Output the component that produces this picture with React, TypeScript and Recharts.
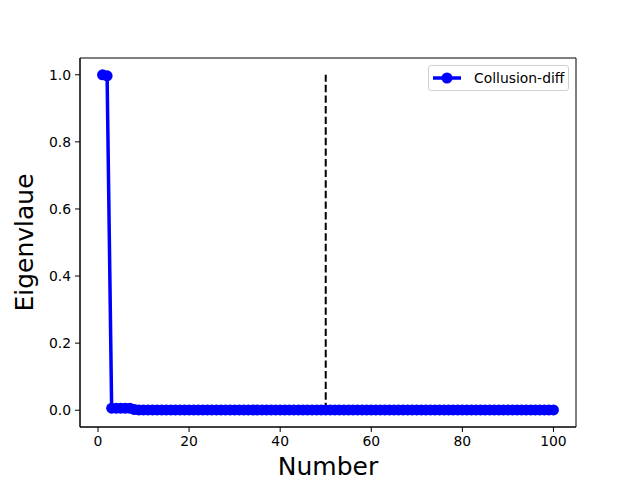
import { LineChart, Line, XAxis, YAxis, ReferenceLine, ReferenceArea, Label } from 'recharts';

// eigenvalue index 1..100
const numbers = [
  1, 2, 3, 4, 5, 6, 7, 8, 9, 10,
  11, 12, 13, 14, 15, 16, 17, 18, 19, 20,
  21, 22, 23, 24, 25, 26, 27, 28, 29, 30,
  31, 32, 33, 34, 35, 36, 37, 38, 39, 40,
  41, 42, 43, 44, 45, 46, 47, 48, 49, 50,
  51, 52, 53, 54, 55, 56, 57, 58, 59, 60,
  61, 62, 63, 64, 65, 66, 67, 68, 69, 70,
  71, 72, 73, 74, 75, 76, 77, 78, 79, 80,
  81, 82, 83, 84, 85, 86, 87, 88, 89, 90,
  91, 92, 93, 94, 95, 96, 97, 98, 99, 100,
];

const collusionDiff = [
  1.0, 0.997, 0.006, 0.006, 0.006, 0.006, 0.006, 0.002, 0.001, 0.001,
  0.001, 0.001, 0.001, 0.001, 0.001, 0.001, 0.001, 0.001, 0.001, 0.001,
  0.001, 0.001, 0.001, 0.001, 0.001, 0.001, 0.001, 0.001, 0.001, 0.001,
  0.001, 0.001, 0.001, 0.001, 0.001, 0.001, 0.001, 0.001, 0.001, 0.001,
  0.001, 0.001, 0.001, 0.001, 0.001, 0.001, 0.001, 0.001, 0.001, 0.001,
  0.001, 0.001, 0.001, 0.001, 0.001, 0.001, 0.001, 0.001, 0.001, 0.001,
  0.001, 0.001, 0.001, 0.001, 0.001, 0.001, 0.001, 0.001, 0.001, 0.001,
  0.001, 0.001, 0.001, 0.001, 0.001, 0.001, 0.001, 0.001, 0.001, 0.001,
  0.001, 0.001, 0.001, 0.001, 0.001, 0.001, 0.001, 0.001, 0.001, 0.001,
  0.001, 0.001, 0.001, 0.001, 0.001, 0.001, 0.001, 0.001, 0.001, 0.001,
];

const xTicks = [0, 20, 40, 60, 80, 100];
const yTicks = [0, 0.2, 0.4, 0.6, 0.8, 1.0];
const xDomain = [-3.95, 104.95];
const yDomain = [-0.05, 1.05];
const cutoff = 50;

const data = numbers.map((n, i) => ({ n, v: collusionDiff[i] }));

const font = "'DejaVu Sans', sans-serif";
const tickStyle = { fontSize: 13.9, fill: '#000', fontFamily: font };

const LegendBox = () => (
  <div
    style={{
      position: 'absolute',
      left: 428,
      top: 65,
      width: 141,
      height: 26,
      border: '1px solid #d0d0d0',
      borderRadius: 3,
      background: 'rgba(255,255,255,0.8)',
      boxSizing: 'border-box',
      fontFamily: font,
      fontSize: 13.9,
      color: '#000',
      display: 'flex',
      alignItems: 'center',
    }}
  >
    <svg width={42} height={20} style={{ marginLeft: 3 }}>
      <line x1={1} y1={10} x2={29} y2={10} stroke="#0000ff" strokeWidth={3.5} />
      <circle cx={15} cy={10} r={5.5} fill="#0000ff" />
    </svg>
    <span>Collusion-diff</span>
  </div>
);

export default function App() {
  return (
    <div style={{ position: 'absolute', left: 0, top: 0, width: 640, height: 480, background: '#fff' }}>
      <LineChart width={640} height={480} data={data} margin={{ top: 58, right: 64, left: 0, bottom: 0 }}>
        <XAxis
          dataKey="n"
          type="number"
          domain={xDomain}
          ticks={xTicks}
          allowDataOverflow
          height={53}
          tick={tickStyle}
          tickSize={5}
          tickMargin={4}
          stroke="#000"
          tickLine={{ stroke: '#000' }}
        >
          <Label
            value="Number"
            position="insideBottom"
            offset={5}
            style={{ fontSize: 25, fill: '#000', fontFamily: font }}
          />
        </XAxis>
        <YAxis
          type="number"
          domain={yDomain}
          ticks={yTicks}
          allowDataOverflow
          width={80}
          tick={tickStyle}
          tickSize={5}
          tickMargin={4}
          tickFormatter={(v: number) => v.toFixed(1)}
          stroke="#000"
          tickLine={{ stroke: '#000' }}
        >
          <Label
            value="Eigenvlaue"
            angle={-90}
            position="insideLeft"
            offset={24}
            style={{ fontSize: 25, fill: '#000', fontFamily: font, textAnchor: 'middle' }}
          />
        </YAxis>
        {/* axes frame */}
        <ReferenceArea
          x1={xDomain[0]}
          x2={xDomain[1]}
          y1={yDomain[0]}
          y2={yDomain[1]}
          fill="none"
          stroke="#000"
          strokeWidth={1}
          ifOverflow="visible"
        />
        <ReferenceLine
          segment={[{ x: cutoff, y: 0 }, { x: cutoff, y: 1 }]}
          stroke="#000"
          strokeWidth={2}
          strokeDasharray="7.4 3.2"
        />
        <Line
          dataKey="v"
          stroke="#0000ff"
          strokeWidth={3.5}
          dot={{ r: 5.5, fill: '#0000ff', stroke: '#0000ff', strokeWidth: 0 }}
          activeDot={false}
          isAnimationActive={false}
        />
      </LineChart>
      <LegendBox />
    </div>
  );
}
